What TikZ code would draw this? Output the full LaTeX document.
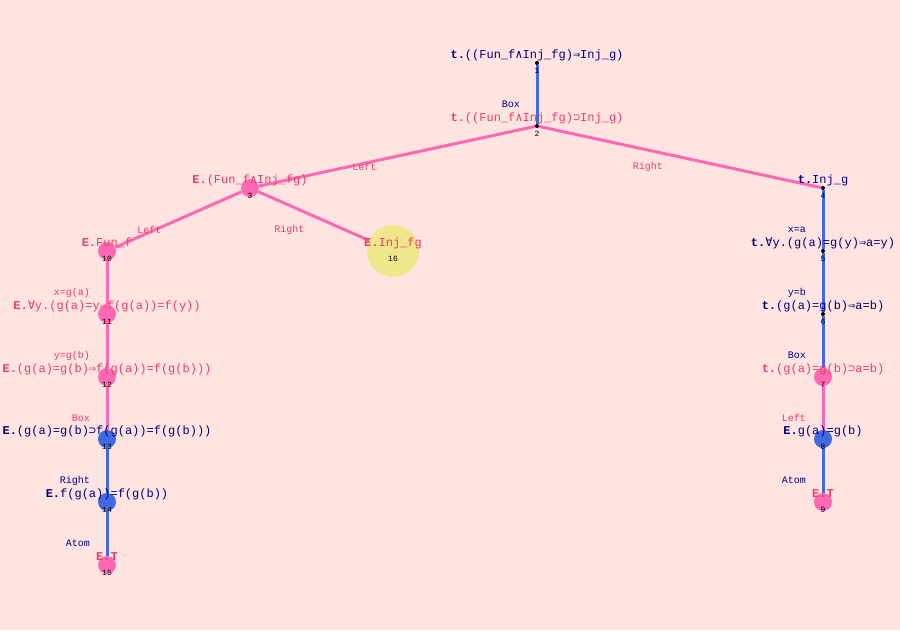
\documentclass[tikz,border=0pt]{standalone}
\usepackage{fontspec}
\setmainfont{Liberation Mono}
\newfontfamily\opfont{DejaVu Sans Mono}
\usetikzlibrary{calc}
\definecolor{bgrose}{HTML}{FFE4E1}
\definecolor{hotpink}{HTML}{FF69B4}
\definecolor{royal}{HTML}{4169E1}
\definecolor{navytext}{HTML}{000080}
\definecolor{redtext}{HTML}{F03C64}
\definecolor{khaki}{HTML}{F0E68C}
\newcommand{\lAnd}{{\opfont ∧}}
\newcommand{\lImp}{{\opfont ⇒}}
\newcommand{\lSup}{{\opfont ⊃}}
\newcommand{\lAll}{{\opfont ∀}}
\newcommand{\sgn}[1]{\textbf{#1.}}
\pgfdeclarelayer{bg}
\pgfdeclarelayer{edges}
\pgfsetlayers{bg,edges,main}
\tikzset{
  tip/.style={circle, fill=black, inner sep=0pt, minimum size=4pt},
  redball/.style={circle, fill=hotpink, inner sep=0pt, minimum size=18pt},
  blueball/.style={circle, fill=royal, inner sep=0pt, minimum size=18pt},
  openball/.style={circle, fill=khaki, inner sep=0pt, minimum size=52pt},
  formula/.style={font=\fontsize{12}{13}\selectfont, inner sep=0pt, yshift=8pt},
  rulelabel/.style={font=\fontsize{10}{11}\selectfont, inner sep=0pt, anchor=east,
                    xshift=-17pt, yshift=-10pt},
  num/.style={font=\fontsize{8}{9}\selectfont, inner sep=0pt, yshift=-7.5pt},
  blueedge/.style={draw=royal, line width=3pt},
  pinkedge/.style={draw=hotpink, line width=3pt}
}

\begin{document}
\begin{tikzpicture}[x=1pt, y=-1pt]

\begin{pgfonlayer}{bg}
  \fill[bgrose] (0,0) rectangle (900,630);
\end{pgfonlayer}

% tableau nodes
\node[tip]      (n1)  at (537,63)  {};
\node[tip]      (n2)  at (537,126) {};
\node[redball]  (n3)  at (250,188) {};
\node[tip]      (n4)  at (823,188) {};
\node[tip]      (n5)  at (823,251) {};
\node[tip]      (n6)  at (823,314) {};
\node[redball]  (n7)  at (823,377) {};
\node[blueball] (n8)  at (823,439) {};
\node[redball]  (n9)  at (823,502) {};
\node[redball]  (n10) at (107,251) {};
\node[redball]  (n11) at (107,314) {};
\node[redball]  (n12) at (107,377) {};
\node[blueball] (n13) at (107,439) {};
\node[blueball] (n14) at (107,502) {};
\node[redball]  (n15) at (107,565) {};
\node[openball] (n16) at (393,251) {};

% branches
\begin{pgfonlayer}{edges}
  \foreach \a/\b in {n1/n2, n4/n5, n5/n6, n6/n7, n8/n9, n13/n14, n14/n15}
    \draw[blueedge] (\a) -- (\b);
  \foreach \a/\b in {n2/n3, n2/n4, n3/n10, n3/n16, n7/n8, n10/n11, n11/n12, n12/n13}
    \draw[pinkedge] (\a) -- (\b);
\end{pgfonlayer}

% formulas
\node[formula, text=navytext] (f1)  at (n1)  {\sgn{t}((Fun\_f\lAnd Inj\_fg)\lImp Inj\_g)};
\node[formula, text=redtext]  (f2)  at (n2)  {\sgn{t}((Fun\_f\lAnd Inj\_fg)\lSup Inj\_g)};
\node[formula, text=redtext]  (f3)  at (n3)  {\sgn{E}(Fun\_f\lAnd Inj\_fg)};
\node[formula, text=navytext] (f4)  at (n4)  {\sgn{t}Inj\_g};
\node[formula, text=navytext] (f5)  at (n5)  {\sgn{t}\lAll y.(g(a)=g(y)\lImp a=y)};
\node[formula, text=navytext] (f6)  at (n6)  {\sgn{t}(g(a)=g(b)\lImp a=b)};
\node[formula, text=redtext]  (f7)  at (n7)  {\sgn{t}(g(a)=g(b)\lSup a=b)};
\node[formula, text=navytext] (f8)  at (n8)  {\sgn{E}g(a)=g(b)};
\node[formula, text=redtext]  (f9)  at (n9)  {\textbf{E.T}};
\node[formula, text=redtext]  (f10) at (n10) {\sgn{E}Fun\_f};
\node[formula, text=redtext]  (f11) at (n11) {\sgn{E}\lAll y.(g(a)=y\lImp f(g(a))=f(y))};
\node[formula, text=redtext]  (f12) at (n12) {\sgn{E}(g(a)=g(b)\lImp f(g(a))=f(g(b)))};
\node[formula, text=navytext] (f13) at (n13) {\sgn{E}(g(a)=g(b)\lSup f(g(a))=f(g(b)))};
\node[formula, text=navytext] (f14) at (n14) {\sgn{E}f(g(a))=f(g(b))};
\node[formula, text=redtext]  (f15) at (n15) {\textbf{E.T}};
\node[formula, text=redtext]  (f16) at (n16) {\sgn{E}Inj\_fg};

% rule labels
\foreach \p/\c/\col/\txt in {n1/n2/navytext/Box, n2/n3/redtext/Left, n2/n4/redtext/Right,
    n4/n5/navytext/x=a, n5/n6/navytext/y=b, n6/n7/navytext/Box, n7/n8/redtext/Left,
    n8/n9/navytext/Atom, n3/n10/redtext/Left, n3/n16/redtext/Right,
    n10/n11/redtext/x=g(a), n11/n12/redtext/y=g(b), n12/n13/redtext/Box,
    n13/n14/navytext/Right, n14/n15/navytext/Atom}
  \node[rulelabel, text=\col] (lab\c) at ($(\p)!0.5!(\c)$) {\txt};

% node numbers
\foreach \i in {1,...,16}
  \node[num] (num\i) at (n\i) {\i};

\end{tikzpicture}
\end{document}
